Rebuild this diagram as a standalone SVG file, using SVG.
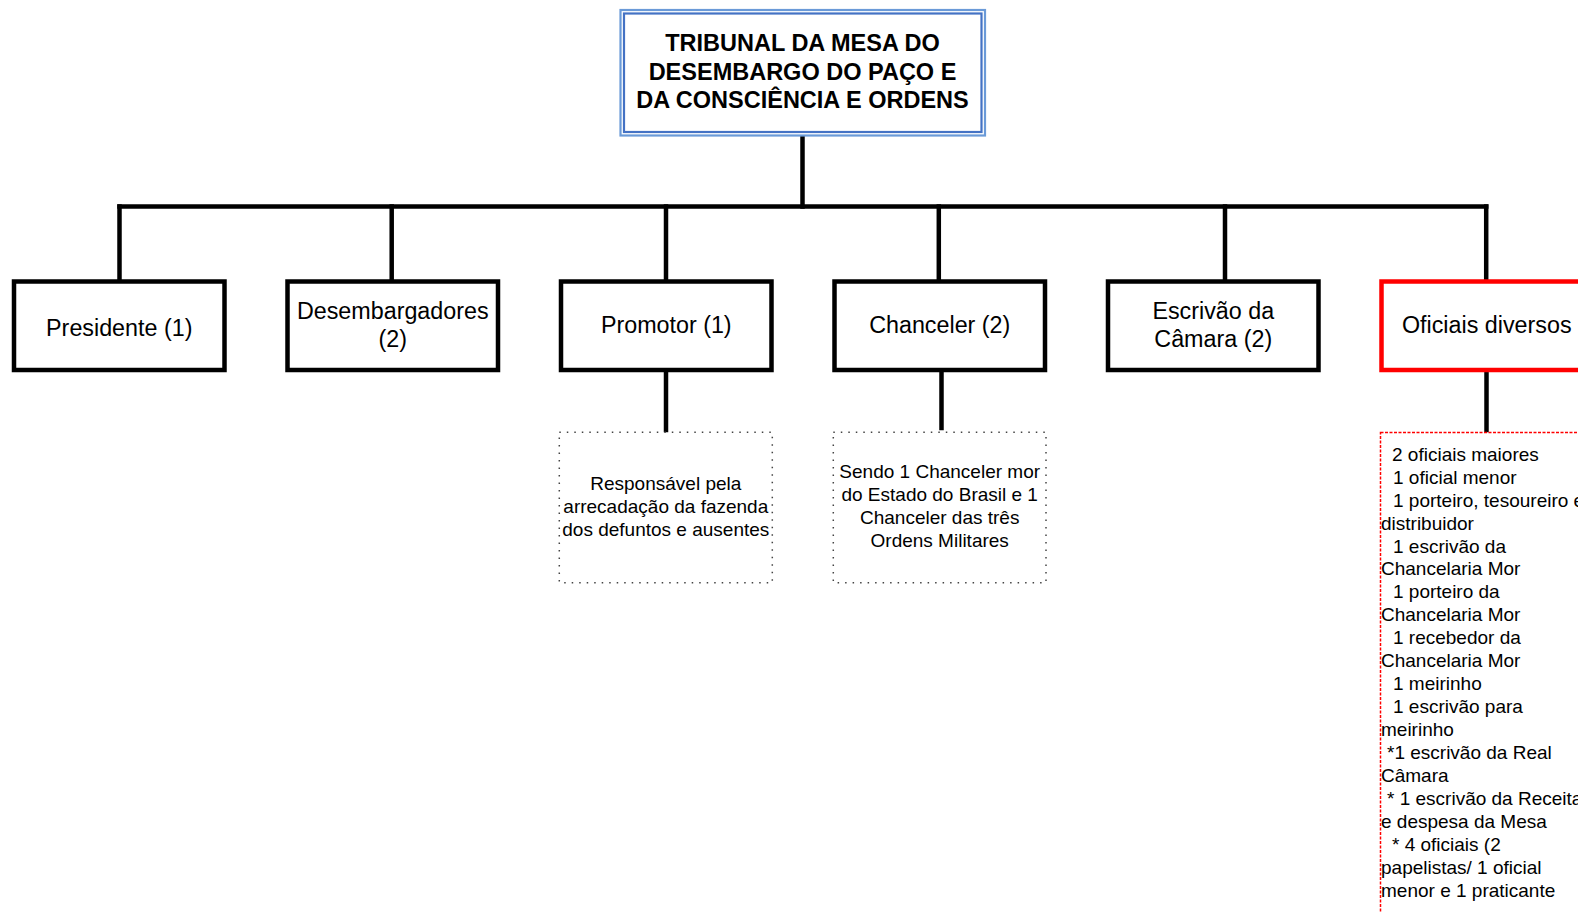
<svg xmlns="http://www.w3.org/2000/svg" width="1578" height="912" viewBox="0 0 1578 912">
<style>
  text { font-family: "Liberation Sans", Arial, sans-serif; fill: #000; }
  .title { font-size: 23.5px; font-weight: bold; text-anchor: middle; }
  .node { font-size: 23.3px; text-anchor: middle; }
  .note { font-size: 19px; text-anchor: middle; }
  .list { font-size: 19px; }
  .box { fill: #fff; stroke: #000; stroke-width: 4.5; stroke-linejoin: miter; }
  .red { fill: #fff; stroke: #ff0000; stroke-width: 4.5; }
  .dots { fill: none; stroke: #444; stroke-width: 1.5; stroke-dasharray: 1.5 6; }
  .reddots { fill: none; stroke: #ff0000; stroke-width: 1.5; stroke-dasharray: 3 1.5; }
  .conn { fill: none; stroke: #000; stroke-width: 4.5; stroke-linecap: square; }
</style>
<rect width="1578" height="912" fill="#fff"/>

<g id="connectors">
  <line class="conn" x1="802.5" y1="137" x2="802.5" y2="206.5"/>
  <line class="conn" x1="119.5" y1="206.5" x2="1486.2" y2="206.5"/>
  <line class="conn" x1="119.5" y1="206.5" x2="119.5" y2="280"/>
  <line class="conn" x1="391.7" y1="206.5" x2="391.7" y2="280"/>
  <line class="conn" x1="666" y1="206.5" x2="666" y2="280"/>
  <line class="conn" x1="938.8" y1="206.5" x2="938.8" y2="280"/>
  <line class="conn" x1="1225" y1="206.5" x2="1225" y2="280"/>
  <line class="conn" x1="1486.2" y1="206.5" x2="1486.2" y2="280"/>
  <line class="conn" x1="666" y1="372" x2="666" y2="430"/>
  <line class="conn" x1="941.5" y1="372" x2="941.5" y2="428"/>
  <line class="conn" x1="1486.5" y1="372" x2="1486.5" y2="430"/>
</g>

<g id="tribunal">
  <rect x="620.5" y="10" width="364.5" height="125.5" fill="#fff" stroke="#6a9ad8" stroke-width="2.2"/>
  <rect x="624" y="13.5" width="357.5" height="118.5" fill="none" stroke="#4472c4" stroke-width="2.2"/>
  <text class="title" x="802.5" y="51.2">TRIBUNAL DA MESA DO</text>
  <text class="title" x="802.5" y="79.6">DESEMBARGO DO PAÇO E</text>
  <text class="title" x="802.5" y="108">DA CONSCIÊNCIA E ORDENS</text>
</g>

<g id="presidente">
  <rect class="box" x="14" y="281.5" width="210.5" height="88.5"/>
  <text class="node" x="119.25" y="336">Presidente (1)</text>
</g>

<g id="desembargadores">
  <rect class="box" x="287.5" y="281.5" width="210.5" height="88.5"/>
  <text class="node" x="392.75" y="319.3">Desembargadores</text>
  <text class="node" x="392.75" y="347.3">(2)</text>
</g>

<g id="promotor">
  <rect class="box" x="561" y="281.5" width="210.5" height="88.5"/>
  <text class="node" x="666.25" y="332.7">Promotor (1)</text>
</g>

<g id="chanceler">
  <rect class="box" x="834.5" y="281.5" width="210.5" height="88.5"/>
  <text class="node" x="939.75" y="332.7">Chanceler (2)</text>
</g>

<g id="escrivao">
  <rect class="box" x="1108" y="281.5" width="210.5" height="88.5"/>
  <text class="node" x="1213.25" y="319.3">Escrivão da</text>
  <text class="node" x="1213.25" y="347.3">Câmara (2)</text>
</g>

<g id="oficiais">
  <rect class="red" x="1381.5" y="281.5" width="210.5" height="88.5"/>
  <text class="node" x="1486.75" y="332.7">Oficiais diversos</text>
</g>

<g id="promotor-nota">
  <rect class="dots" x="559.3" y="432.3" width="213" height="150.4"/>
  <text class="note" x="665.8" y="490">Responsável pela</text>
  <text class="note" x="665.8" y="513">arrecadação da fazenda</text>
  <text class="note" x="665.8" y="536">dos defuntos e ausentes</text>
</g>

<g id="chanceler-nota">
  <rect class="dots" x="833.3" y="432.3" width="212.7" height="150.4"/>
  <text class="note" x="939.7" y="478.3">Sendo 1 Chanceler mor</text>
  <text class="note" x="939.7" y="501.3">do Estado do Brasil e 1</text>
  <text class="note" x="939.7" y="524.3">Chanceler das três</text>
  <text class="note" x="939.7" y="547.3">Ordens Militares</text>
</g>

<g id="oficiais-nota">
  <rect class="reddots" x="1380.5" y="432.5" width="230" height="500"/>
  <text class="list" x="1392" y="460.7">2 oficiais maiores</text>
  <text class="list" x="1393" y="483.6">1 oficial menor</text>
  <text class="list" x="1393" y="506.6">1 porteiro, tesoureiro e</text>
  <text class="list" x="1381" y="529.5">distribuidor</text>
  <text class="list" x="1393" y="552.5">1 escrivão da</text>
  <text class="list" x="1381" y="575.4">Chancelaria Mor</text>
  <text class="list" x="1393" y="598.4">1 porteiro da</text>
  <text class="list" x="1381" y="621.3">Chancelaria Mor</text>
  <text class="list" x="1393" y="644.3">1 recebedor da</text>
  <text class="list" x="1381" y="667.2">Chancelaria Mor</text>
  <text class="list" x="1393" y="690.2">1 meirinho</text>
  <text class="list" x="1393" y="713.1">1 escrivão para</text>
  <text class="list" x="1381" y="736.1">meirinho</text>
  <text class="list" x="1387" y="759">*1 escrivão da Real</text>
  <text class="list" x="1381" y="782">Câmara</text>
  <text class="list" x="1387" y="804.9">* 1 escrivão da Receita</text>
  <text class="list" x="1381" y="827.9">e despesa da Mesa</text>
  <text class="list" x="1392" y="850.8">* 4 oficiais (2</text>
  <text class="list" x="1381" y="873.8">papelistas/ 1 oficial</text>
  <text class="list" x="1381" y="896.7">menor e 1 praticante</text>
</g>
</svg>
